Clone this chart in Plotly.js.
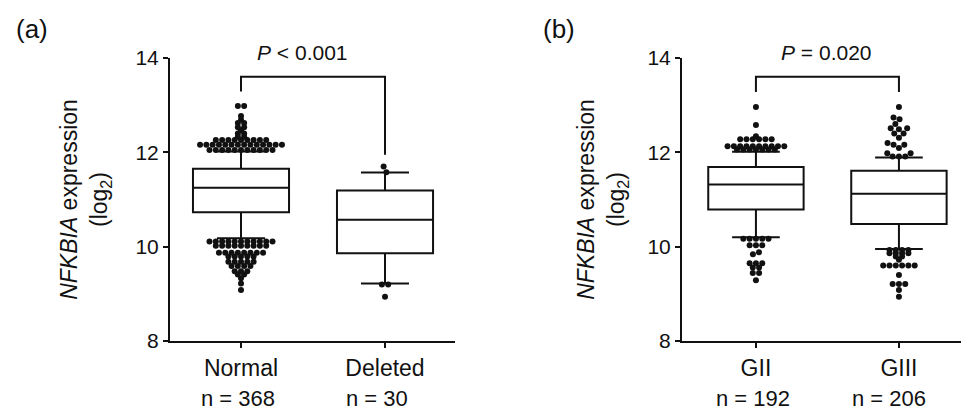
<!DOCTYPE html>
<html>
<head>
<meta charset="utf-8">
<script src="https://cdn.plot.ly/plotly-3.0.1.min.js"></script>
<style>
  html, body { margin: 0; padding: 0; background: #fff; overflow: hidden; }
  #chart { width: 961px; height: 412px; }
</style>
</head>
<body>
<div id="chart"></div>
<script>
// ---------------- data ----------------
const categoriesA = ['Normal', 'Deleted'];
const countsA = [368, 30];
const q1A = [10.73, 9.86];
const medianA = [11.25, 10.57];
const q3A = [11.65, 11.19];
const lowerWhiskerA = [10.18, 9.22];
const upperWhiskerA = [12.02, 11.57];

const categoriesB = ['GII', 'GIII'];
const countsB = [192, 206];
const q1B = [10.79, 10.48];
const medianB = [11.32, 11.12];
const q3B = [11.69, 11.61];
const lowerWhiskerB = [10.20, 9.95];
const upperWhiskerB = [12.01, 11.89];

const outliersNormal = [
  12.98, 12.98, 12.77, 12.69, 12.62, 12.62, 12.53, 12.53, 12.47, 12.40, 12.40, 12.33, 12.33,
  12.26, 12.26, 12.26, 12.26, 12.26, 12.26, 12.26, 12.26, 12.26,
  12.16, 12.16, 12.16, 12.16, 12.16, 12.16, 12.16, 12.16, 12.16, 12.16, 12.16, 12.16, 12.16, 12.16,
  12.05, 12.05, 12.05, 12.05, 12.05, 12.05, 12.05, 12.05, 12.05, 12.05, 12.05,
  10.11, 10.11, 10.11, 10.11, 10.11, 10.11, 10.11, 10.11, 10.11, 10.11, 10.11,
  10.02, 10.02, 10.02, 10.02, 10.02, 10.02, 10.02, 10.02, 10.02,
  9.87, 9.87, 9.87, 9.87, 9.87, 9.87, 9.87, 9.87,
  9.79, 9.79, 9.79, 9.79, 9.79,
  9.68, 9.68, 9.68, 9.68, 9.68,
  9.59, 9.59, 9.59, 9.59,
  9.48, 9.48, 9.48,
  9.41, 9.41, 9.33, 9.22, 9.08
];
const outliersDeleted = [11.70, 11.58, 9.20, 9.20, 8.94];
const outliersGII = [
  12.96, 12.58, 12.34,
  12.28, 12.28, 12.28, 12.28, 12.28, 12.28,
  12.13, 12.13, 12.13, 12.13, 12.13, 12.13, 12.13, 12.13, 12.13, 12.13,
  12.06, 12.06, 12.06, 12.06, 12.06, 12.06, 12.06,
  10.17, 10.17, 10.17, 10.17, 10.17,
  10.03, 10.03, 10.03, 9.88, 9.84, 9.65, 9.65, 9.65, 9.56, 9.56, 9.44, 9.44, 9.29
];
const outliersGIIIHigh = [
  12.96, 12.74, 12.70, 12.60, 12.51, 12.51, 12.49, 12.40, 12.40, 12.31,
  12.20, 12.16, 12.16, 12.09, 11.98, 11.98, 11.91, 11.91, 11.91
];
const outliersGIIILow = [
  9.93, 9.93, 9.93, 9.93, 9.86, 9.86, 9.86, 9.86, 9.79, 9.79, 9.72,
  9.60, 9.60, 9.60, 9.60, 9.60, 9.60, 9.40, 9.21, 9.21, 9.21, 9.08, 8.94
];
const pLabelA = '<i>P</i> < 0.001';
const pLabelB = '<i>P</i> = 0.020';
const yTickVals = [8, 10, 12, 14];

// ---------------- geometry / style ----------------
const W = 961, H = 412;
const M = { l: 170, r: 0, t: 58, b: 71 };
const plotW = W - M.l - M.r, plotH = H - M.t - M.b;
const domA = [0, (455 - 170) / plotW];
const domB = [(682 - 170) / plotW, 1];
const rangeA = [-0.493, 1.486];
const rangeB = [-0.517, 1.434];
const yRange = [8, 14];
const FONT = 'Liberation Sans, Arial, Helvetica, sans-serif';
const INK = '#111';
const DOT = 6;        // marker diameter in px
const GAP = 6.3;      // minimum centre distance of neighbouring dots (px)
const ROWS = 2.5;     // points closer than this (px, vertically) share a row
const SWARM = GAP;    // full beeswarm collision

const pxPerY = plotH / (yRange[1] - yRange[0]);
const pxPerXA = (domA[1] - domA[0]) * plotW / (rangeA[1] - rangeA[0]);
const pxPerXB = (domB[1] - domB[0]) * plotW / (rangeB[1] - rangeB[0]);

// beeswarm-style horizontal spreading of the dots
function swarm(values, center, pxPerX, pivot, reach) {
  const order = values.map((v, i) => i)
    .sort((a, b) => Math.abs(values[a] - pivot) - Math.abs(values[b] - pivot));
  const placed = [];
  const off = new Array(values.length);
  order.forEach(i => {
    const yp = values[i] * pxPerY;
    const near = placed.filter(p => Math.abs(p.y - yp) < reach);
    const need = p => Math.sqrt(Math.max(0, GAP * GAP - (p.y - yp) * (p.y - yp)));
    const cands = [0];
    near.forEach(p => { const d = need(p); cands.push(p.x + d, p.x - d); });
    cands.sort((a, b) => Math.abs(a) - Math.abs(b) || a - b);
    const c = cands.find(c => near.every(p => Math.abs(p.x - c) >= need(p) - 1e-6));
    placed.push({ i, x: c, y: yp });
  });
  const visited = new Set();
  placed.forEach(p => {
    if (visited.has(p)) return;
    const group = [p]; visited.add(p);
    for (let k = 0; k < group.length; k++) {
      placed.forEach(q => {
        if (!visited.has(q) && Math.abs(q.y - group[k].y) < reach) { visited.add(q); group.push(q); }
      });
    }
    const mn = Math.min(...group.map(g => g.x)), mx = Math.max(...group.map(g => g.x));
    const shift = (mn + mx) / 2;
    group.forEach(g => { off[g.i] = center + (g.x - shift) / pxPerX; });
  });
  return off;
}

function boxTrace(q1, med, q3, lo, hi, xa, ya) {
  return {
    type: 'box', x: [0, 1], q1: q1, median: med, q3: q3,
    lowerfence: lo, upperfence: hi,
    width: 0.667, whiskerwidth: 0.5, boxpoints: false,
    fillcolor: '#fff', line: { color: INK, width: 2 },
    xaxis: xa, yaxis: ya, hoverinfo: 'skip', showlegend: false
  };
}
function dotTrace(vals, center, pxPerX, pivot, reach, xa, ya) {
  return {
    type: 'scatter', mode: 'markers', x: swarm(vals, center, pxPerX, pivot, reach), y: vals,
    marker: { size: DOT, color: INK, line: { width: 0 } },
    xaxis: xa, yaxis: ya, hoverinfo: 'skip', showlegend: false, cliponaxis: false
  };
}
function bracket(yTop, yLeft, yRight, xa, ya) {
  return {
    type: 'scatter', mode: 'lines', x: [0, 0, 1, 1], y: [yLeft, yTop, yTop, yRight],
    line: { color: INK, width: 2 }, xaxis: xa, yaxis: ya,
    hoverinfo: 'skip', showlegend: false, cliponaxis: false
  };
}

const traces = [
  boxTrace(q1A, medianA, q3A, lowerWhiskerA, upperWhiskerA, 'x', 'y'),
  boxTrace(q1B, medianB, q3B, lowerWhiskerB, upperWhiskerB, 'x2', 'y2'),
  dotTrace(outliersNormal, 0, pxPerXA, medianA[0], ROWS, 'x', 'y'),
  dotTrace(outliersDeleted, 1, pxPerXA, medianA[1], SWARM, 'x', 'y'),
  dotTrace(outliersGII, 0, pxPerXB, medianB[0], ROWS, 'x2', 'y2'),
  dotTrace(outliersGIIIHigh, 1, pxPerXB, medianB[1], SWARM, 'x2', 'y2'),
  dotTrace(outliersGIIILow, 1, pxPerXB, medianB[1], ROWS, 'x2', 'y2'),
  bracket(13.6, 13.29, 11.95, 'x', 'y'),
  bracket(13.6, 13.28, 13.28, 'x2', 'y2')
];

function xAxis(dom, range, cats, anchor) {
  return {
    domain: dom, range: range, anchor: anchor,
    tickvals: [0, 1], ticktext: cats,
    showline: true, linecolor: INK, linewidth: 2,
    ticks: 'outside', ticklen: 5, tickwidth: 2, tickcolor: INK,
    showgrid: false, zeroline: false, fixedrange: true,
    tickfont: { family: FONT, size: 23, color: INK }
  };
}
function yAxis(anchor, standoff) {
  return {
    domain: [0, 1], range: yRange, anchor: anchor,
    tickvals: yTickVals, ticktext: yTickVals.map(String),
    showline: true, linecolor: INK, linewidth: 2,
    ticks: 'outside', ticklen: 5, tickwidth: 2, tickcolor: INK,
    showgrid: false, zeroline: false, fixedrange: true, automargin: false,
    tickfont: { family: FONT, size: 21, color: INK },
    title: { text: '<i>NFKBIA</i> expression<br>(log<sub>2</sub>)',
             font: { family: FONT, size: 23, color: INK }, standoff: standoff }
  };
}

const annFont = { family: FONT, size: 21, color: INK };
const nFont = { family: FONT, size: 22, color: INK };
const pY = 1 + 5.5 / plotH;
const annotations = [
  { xref: 'x', yref: 'paper', x: 0.43, y: pY, text: pLabelA, showarrow: false, font: annFont,
    xanchor: 'center', yanchor: 'middle' },
  { xref: 'x2', yref: 'paper', x: 0.49, y: pY, text: pLabelB, showarrow: false, font: annFont,
    xanchor: 'center', yanchor: 'middle' },
  { xref: 'paper', yref: 'paper', x: -138 / plotW, y: 1 + 29 / plotH, text: '(a)', showarrow: false,
    font: { family: FONT, size: 26, color: INK }, xanchor: 'center', yanchor: 'middle' },
  { xref: 'paper', yref: 'paper', x: (559 - 170) / plotW, y: 1 + 29 / plotH, text: '(b)', showarrow: false,
    font: { family: FONT, size: 26, color: INK }, xanchor: 'center', yanchor: 'middle' }
];
const nShiftA = [-3, -8];
countsA.forEach((n, i) => annotations.push({
  xref: 'x', yref: 'paper', x: i, y: -57 / plotH, xshift: nShiftA[i], text: 'n = ' + n,
  showarrow: false, font: nFont, xanchor: 'center', yanchor: 'middle'
}));
const nShiftB = [-3, -10];
countsB.forEach((n, i) => annotations.push({
  xref: 'x2', yref: 'paper', x: i, y: -57 / plotH, xshift: nShiftB[i], text: 'n = ' + n,
  showarrow: false, font: nFont, xanchor: 'center', yanchor: 'middle'
}));

const layout = {
  width: W, height: H, margin: M,
  paper_bgcolor: '#fff', plot_bgcolor: 'rgba(0,0,0,0)',
  showlegend: false, boxmode: 'overlay',
  font: { family: FONT, color: INK },
  xaxis: xAxis(domA, rangeA, categoriesA, 'y'),
  yaxis: yAxis('x', 21),
  xaxis2: xAxis(domB, rangeB, categoriesB, 'y2'),
  yaxis2: yAxis('x2', 16),
  annotations: annotations
};

Plotly.newPlot('chart', traces, layout, { staticPlot: true, displayModeBar: false });
</script>
</body>
</html>
